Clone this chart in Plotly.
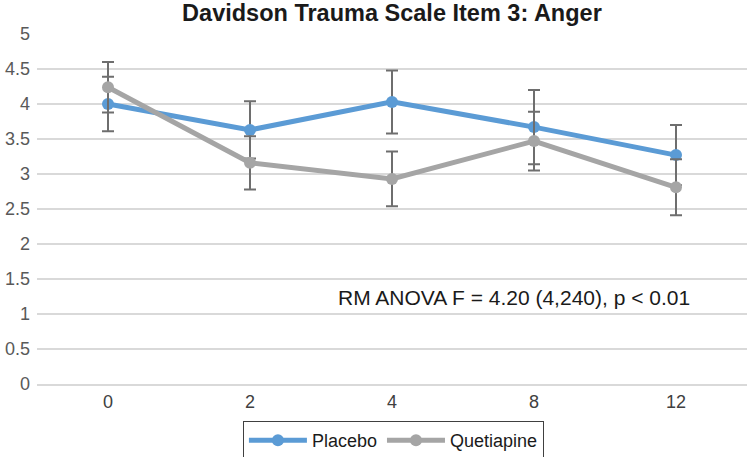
import plotly.graph_objects as go

weeks = ["0", "2", "4", "8", "12"]
placebo = [4.00, 3.63, 4.03, 3.67, 3.27]
placebo_err = [0.39, 0.41, 0.45, 0.53, 0.43]
quetiapine = [4.24, 3.16, 2.93, 3.47, 2.81]
quetiapine_err = [0.36, 0.38, 0.39, 0.42, 0.40]
y_ticks = [0, 0.5, 1, 1.5, 2, 2.5, 3, 3.5, 4, 4.5, 5]
y_tick_text = ["0", "0.5", "1", "1.5", "2", "2.5", "3", "3.5", "4", "4.5", "5"]

FONT = "Liberation Sans, Arial, sans-serif"
err_style = dict(type="data", visible=True, color="#6E6E6E", thickness=2, width=6)

fig = go.Figure()
fig.add_trace(go.Scatter(
    x=weeks, y=placebo, name="Placebo", mode="lines+markers",
    line=dict(color="#5B9BD5", width=5),
    marker=dict(color="#5B9BD5", size=12),
    error_y=dict(array=placebo_err, **err_style),
))
fig.add_trace(go.Scatter(
    x=weeks, y=quetiapine, name="Quetiapine", mode="lines+markers",
    line=dict(color="#A5A5A5", width=5),
    marker=dict(color="#A5A5A5", size=12),
    error_y=dict(array=quetiapine_err, **err_style),
))

fig.update_layout(
    width=748, height=457,
    margin=dict(l=37, r=1, t=34, b=73, autoexpand=False),
    paper_bgcolor="white", plot_bgcolor="white",
    font=dict(family=FONT, color="#595959", size=18),
    title=dict(text="<b>Davidson Trauma Scale Item 3: Anger</b>",
               font=dict(family=FONT, size=23.5, color="#1a1a1a"),
               x=0.524, xanchor="center", y=0.973, yanchor="middle"),
    xaxis=dict(type="category", range=[-0.5, 4.5], showgrid=False, automargin=False,
               showline=True, linecolor="#D9D9D9", linewidth=2,
               ticks="", tickfont=dict(size=18, color="#404040")),
    yaxis=dict(range=[0, 5], tickvals=y_ticks, ticktext=y_tick_text, automargin=False,
               showgrid=True, gridcolor="#D9D9D9", gridwidth=2,
               zeroline=False, ticks="", ticklen=0, ticklabelstandoff=6,
               tickfont=dict(size=18, color="#595959")),
    legend=dict(orientation="h", x=0.502, xanchor="center", y=-0.106, yanchor="top",
                bordercolor="#404040", borderwidth=1,
                font=dict(size=18, color="#1a1a1a"), itemwidth=58),
    annotations=[dict(text="RM ANOVA F = 4.20 (4,240), p < 0.01",
                      x=4.11, y=1.24, xref="x", yref="y", xanchor="right", yanchor="middle",
                      showarrow=False, font=dict(size=21, color="#1a1a1a", family=FONT))],
)

fig.write_html("out.html", config={"displayModeBar": False},
               post_script="document.body.style.margin='0';")
